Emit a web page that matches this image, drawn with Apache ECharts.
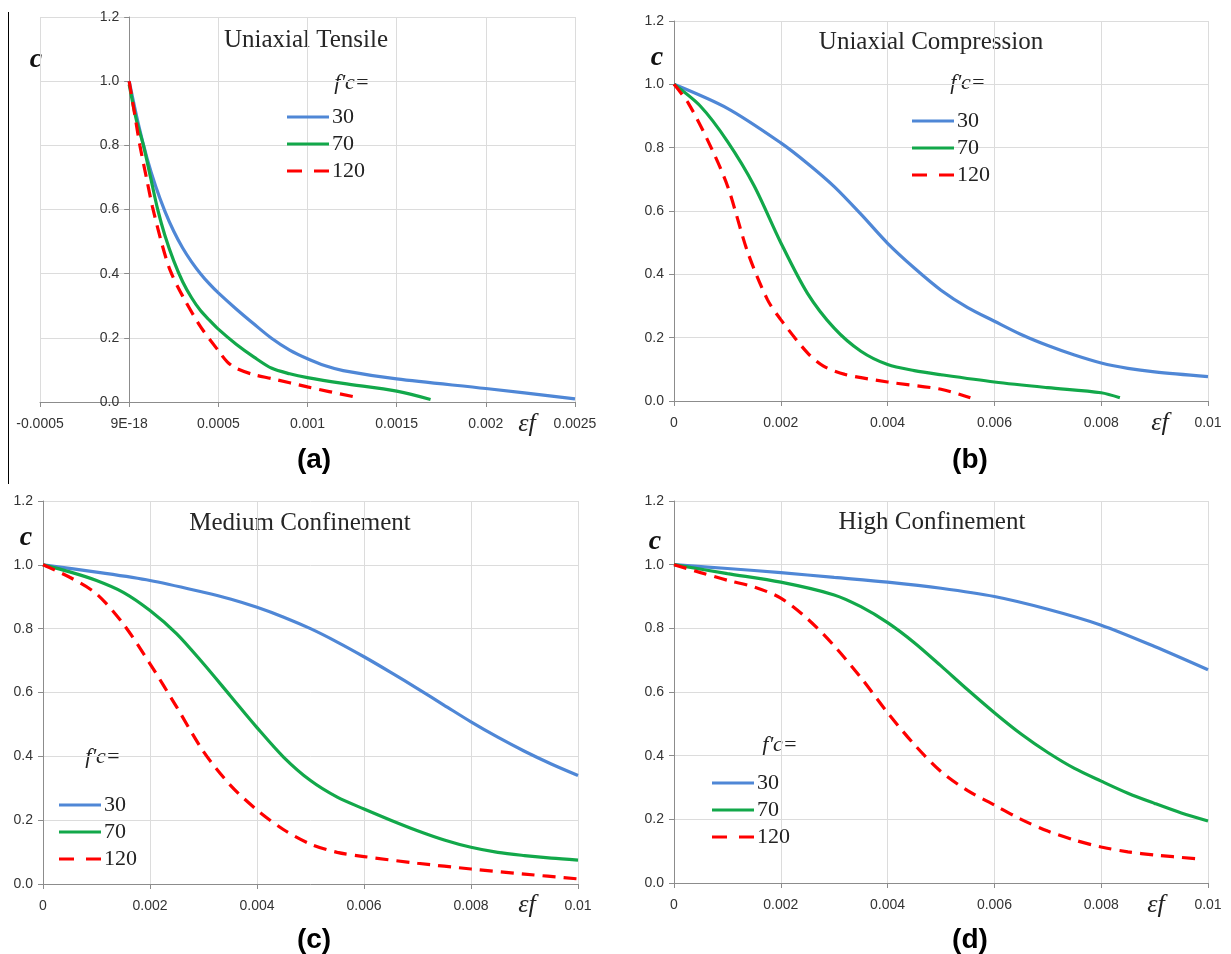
<!DOCTYPE html>
<html>
<head>
<meta charset="utf-8">
<script src="https://cdn.jsdelivr.net/npm/echarts@6/dist/echarts.min.js"></script>
<style>
html,body{margin:0;padding:0;background:#fff;}
#chart{width:1231px;height:954px;}
</style>
</head>
<body>
<div id="chart"></div>
<script>
// ---------- data ----------
const seriesNames = ['30', '70', '120'];
const panelTitles = ['Uniaxial Tensile', 'Uniaxial Compression', 'Medium Confinement', 'High Confinement'];
const panelLetters = ['(a)', '(b)', '(c)', '(d)'];
const yTickLabels = ['0.0', '0.2', '0.4', '0.6', '0.8', '1.0', '1.2'];
const xTickLabelsA = ['-0.0005', '9E-18', '0.0005', '0.001', '0.0015', '0.002', '0.0025'];
const xTickLabelsBCD = ['0', '0.002', '0.004', '0.006', '0.008', '0.01'];

// (a) Uniaxial Tensile  [strain, c]
const tensile30 = [[0,1.0],[0.00005,0.87],[0.0001,0.76],[0.00015,0.67],[0.0002,0.595],[0.00025,0.532],[0.0003,0.48],[0.00035,0.437],[0.0004,0.40],[0.00045,0.368],[0.0005,0.34],[0.0006,0.29],[0.0007,0.243],[0.0008,0.198],[0.0009,0.162],[0.001,0.135],[0.0011,0.113],[0.0012,0.098],[0.0015,0.072],[0.002,0.042],[0.0025,0.01]];
const tensile70 = [[0,0.99],[0.00004,0.88],[0.00008,0.8],[0.00012,0.7],[0.00016,0.6],[0.0002,0.52],[0.00025,0.44],[0.0003,0.375],[0.00035,0.325],[0.0004,0.285],[0.00045,0.255],[0.0005,0.227],[0.0006,0.18],[0.0007,0.14],[0.0008,0.105],[0.0009,0.088],[0.001,0.076],[0.0012,0.058],[0.0015,0.034],[0.00169,0.008]];
const tensile120 = [[0,1.0],[0.00003,0.9],[0.00006,0.8],[0.0001,0.69],[0.00013,0.61],[0.00018,0.5],[0.00023,0.41],[0.0003,0.33],[0.0004,0.235],[0.0005,0.16],[0.00055,0.125],[0.0006,0.105],[0.0007,0.085],[0.0008,0.073],[0.001,0.047],[0.00128,0.014]];

// (b) Uniaxial Compression
const compr30 = [[0,1.0],[0.001,0.924],[0.002,0.815],[0.0025,0.75],[0.003,0.677],[0.0035,0.59],[0.004,0.498],[0.0045,0.42],[0.005,0.35],[0.0055,0.295],[0.006,0.252],[0.0065,0.21],[0.007,0.175],[0.0075,0.145],[0.008,0.12],[0.0085,0.103],[0.009,0.092],[0.01,0.077]];
const compr70 = [[0,1.0],[0.0005,0.93],[0.001,0.82],[0.0015,0.68],[0.002,0.50],[0.0025,0.34],[0.003,0.23],[0.0035,0.157],[0.004,0.115],[0.0045,0.096],[0.005,0.083],[0.006,0.06],[0.007,0.042],[0.008,0.026],[0.00835,0.01]];
const compr120 = [[0,1.0],[0.00027,0.94],[0.00064,0.82],[0.001,0.68],[0.00138,0.47],[0.00175,0.32],[0.002,0.257],[0.0025,0.152],[0.0028,0.11],[0.0032,0.084],[0.004,0.06],[0.005,0.037],[0.00555,0.01]];

// (c) Medium Confinement
const medium30 = [[0,1.0],[0.001,0.977],[0.002,0.951],[0.003,0.914],[0.0035,0.893],[0.004,0.867],[0.0045,0.836],[0.005,0.80],[0.0055,0.758],[0.006,0.712],[0.0065,0.663],[0.007,0.612],[0.0075,0.56],[0.008,0.508],[0.0085,0.46],[0.009,0.416],[0.0095,0.376],[0.01,0.34]];
const medium70 = [[0,1.0],[0.0005,0.978],[0.001,0.951],[0.0015,0.914],[0.002,0.857],[0.0025,0.784],[0.003,0.69],[0.0035,0.59],[0.004,0.49],[0.0045,0.397],[0.005,0.324],[0.0055,0.272],[0.006,0.235],[0.0065,0.2],[0.007,0.167],[0.0075,0.138],[0.008,0.115],[0.0085,0.099],[0.009,0.089],[0.0095,0.081],[0.01,0.075]];
const medium120 = [[0,1.0],[0.0005,0.961],[0.001,0.909],[0.0015,0.815],[0.002,0.69],[0.0025,0.554],[0.003,0.415],[0.0035,0.31],[0.004,0.232],[0.0045,0.17],[0.005,0.125],[0.0055,0.099],[0.006,0.086],[0.007,0.065],[0.008,0.047],[0.009,0.031],[0.01,0.016]];

// (d) High Confinement
const high30 = [[0,1.0],[0.001,0.988],[0.002,0.975],[0.003,0.96],[0.004,0.945],[0.005,0.926],[0.006,0.9],[0.007,0.86],[0.008,0.81],[0.009,0.743],[0.01,0.67]];
const high70 = [[0,1.0],[0.001,0.972],[0.002,0.945],[0.003,0.905],[0.0035,0.868],[0.004,0.818],[0.0045,0.755],[0.005,0.682],[0.0055,0.607],[0.006,0.535],[0.0065,0.468],[0.007,0.41],[0.0075,0.36],[0.008,0.32],[0.0085,0.282],[0.009,0.25],[0.0095,0.22],[0.01,0.195]];
const high120 = [[0,1.0],[0.0005,0.975],[0.001,0.951],[0.0015,0.93],[0.002,0.895],[0.0025,0.83],[0.003,0.745],[0.0035,0.645],[0.004,0.535],[0.0045,0.435],[0.005,0.35],[0.0055,0.29],[0.006,0.245],[0.0065,0.2],[0.007,0.163],[0.0075,0.135],[0.008,0.113],[0.0085,0.098],[0.009,0.088],[0.0098,0.076]];

const panelData = [
  [tensile30, tensile70, tensile120],
  [compr30, compr70, compr120],
  [medium30, medium70, medium120],
  [high30, high70, high120]
];

// ---------- layout / style ----------
const SERIF = '"Liberation Serif", "Times New Roman", serif';
const SANS = '"Liberation Sans", Arial, sans-serif';
const colors = ['#4f87d6', '#12a84a', '#ff0000'];
const legendIcons = ['path://M0,0h42v3h-42z', 'path://M0,0h42v3h-42z', 'path://M0,0h15v3h-15zM27,0h15v3h-15z'];
const grids = [
  {left: 40, top: 17, width: 535, height: 385},
  {left: 674, top: 21, width: 534, height: 380},
  {left: 43, top: 501, width: 535, height: 383},
  {left: 674, top: 501, width: 534, height: 382}
];
const xRanges = [
  {min: -0.0005, max: 0.0025, interval: 0.0005, labels: xTickLabelsA},
  {min: 0, max: 0.01, interval: 0.002, labels: xTickLabelsBCD},
  {min: 0, max: 0.01, interval: 0.002, labels: xTickLabelsBCD},
  {min: 0, max: 0.01, interval: 0.002, labels: xTickLabelsBCD}
];
const legendPos = [
  {left: 287, top: 103.5},
  {left: 912, top: 107.5},
  {left: 59, top: 791.5},
  {left: 712, top: 769.5}
];
const titlePos = [[306, 40], [931, 42], [300, 523], [932, 522]];
const cPos = [[36, 60], [657, 58], [26, 538], [655, 542]];
const fcPos = [[352, 83], [968, 83], [103, 757], [780, 745]];
const epsPos = [[527, 424], [1160, 423], [527, 905], [1156, 905]];
const letterPos = [[314, 460], [970, 460], [314, 940], [970, 940]];

const axisLineColor = '#8c8c8c';
const gridColor = '#dcdcdc';
const labelColor = '#333';

const xAxes = [], yAxes = [], series = [], legends = [], graphics = [];
grids.forEach((g, i) => {
  const r = xRanges[i];
  // y axis sits at x = 0 (Excel style): shift it right by the width of the negative part
  const yOffset = -g.width * (0 - r.min) / (r.max - r.min);
  xAxes.push({
    type: 'value', gridIndex: i, min: r.min, max: r.max, interval: r.interval,
    axisLine: {show: true, onZero: false, lineStyle: {color: axisLineColor, width: 1}},
    axisTick: {show: true, length: 5, lineStyle: {color: axisLineColor}},
    splitLine: {show: true, lineStyle: {color: gridColor, width: 1}},
    axisLabel: {
      margin: 15, color: labelColor, fontFamily: SANS, fontSize: 14,
      showMinLabel: true, showMaxLabel: true,
      formatter: (v) => r.labels[Math.round((v - r.min) / r.interval)]
    }
  });
  yAxes.push({
    type: 'value', gridIndex: i, min: 0, max: 1.2, interval: 0.2, offset: yOffset,
    axisLine: {show: true, onZero: false, lineStyle: {color: axisLineColor, width: 1}},
    axisTick: {show: true, length: 5, lineStyle: {color: axisLineColor}},
    splitLine: {show: true, lineStyle: {color: gridColor, width: 1}},
    axisLabel: {
      margin: 10, color: labelColor, fontFamily: SANS, fontSize: 14,
      formatter: (v) => yTickLabels[Math.round(v / 0.2)]
    }
  });
  const legendData = [];
  panelData[i].forEach((d, k) => {
    const nm = 'p' + i + '_' + seriesNames[k];
    legendData.push({name: nm, icon: legendIcons[k]});
    series.push({
      name: nm, type: 'line', xAxisIndex: i, yAxisIndex: i,
      data: d, smooth: 0.3, showSymbol: false, symbol: 'none',
      lineStyle: {color: colors[k], width: 3.2, type: k === 2 ? [13, 8] : 'solid'},
      itemStyle: {color: colors[k]},
      emphasis: {disabled: true}, silent: true, animation: false
    });
  });
  legends.push({
    data: legendData, orient: 'vertical', left: legendPos[i].left, top: legendPos[i].top,
    padding: 0, itemGap: 0, itemWidth: 42, itemHeight: 3, symbolKeepAspect: false,
    selectedMode: false,
    formatter: (n) => n.split('_')[1],
    textStyle: {fontFamily: SERIF, fontSize: 22, color: '#222', lineHeight: 27, padding: [0, 0, 0, -2]}
  });
  graphics.push({type: 'text', x: titlePos[i][0], y: titlePos[i][1],
    style: {text: panelTitles[i], font: '25px ' + SERIF, fill: '#262626', textAlign: 'center', textVerticalAlign: 'middle'}});
  graphics.push({type: 'text', x: cPos[i][0], y: cPos[i][1],
    style: {text: 'c', font: 'italic bold 28px ' + SERIF, fill: '#111', textAlign: 'center', textVerticalAlign: 'middle'}});
  graphics.push({type: 'text', x: fcPos[i][0], y: fcPos[i][1],
    style: {text: "f'c=", font: 'italic 22px ' + SERIF, fill: '#222', textAlign: 'center', textVerticalAlign: 'middle'}});
  graphics.push({type: 'text', x: epsPos[i][0], y: epsPos[i][1],
    style: {text: 'εf', font: 'italic 26px ' + SERIF, fill: '#222', textAlign: 'center', textVerticalAlign: 'middle'}});
  graphics.push({type: 'text', x: letterPos[i][0], y: letterPos[i][1],
    style: {text: panelLetters[i], font: 'bold 28px ' + SANS, fill: '#000', textAlign: 'center', textVerticalAlign: 'middle'}});
});
graphics.push({type: 'line', shape: {x1: 8.5, y1: 12, x2: 8.5, y2: 484}, style: {stroke: '#000', lineWidth: 1}});

const chart = echarts.init(document.getElementById('chart'), null, {renderer: 'canvas'});
chart.setOption({
  animation: false,
  backgroundColor: '#fff',
  grid: grids,
  xAxis: xAxes,
  yAxis: yAxes,
  legend: legends,
  series: series,
  graphic: graphics
});
</script>
</body>
</html>
